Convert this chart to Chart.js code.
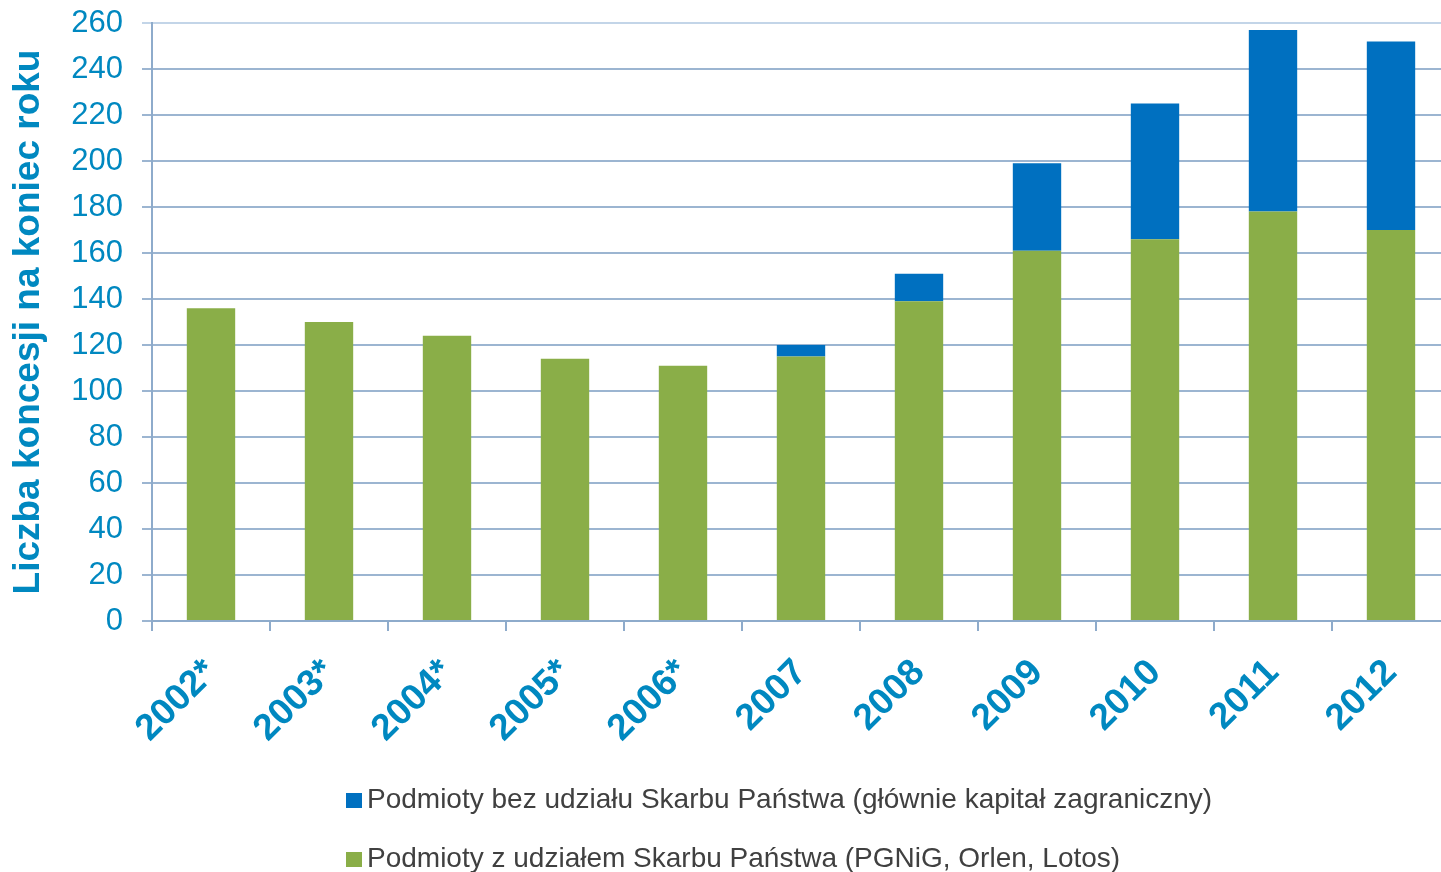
<!DOCTYPE html>
<html lang="pl">
<head>
    <meta charset="utf-8">
    <title>Liczba koncesji na koniec roku</title>
    <script src="https://cdn.jsdelivr.net/npm/chart.js@4"></script>
    <style>
        body { margin: 0; background: #fff; overflow: hidden; }
        #wrap { position: relative; width: 1450px; height: 872px; }
        .legend-row {
            position: absolute;
            left: 346px;
            font-family: "Liberation Sans", Arial, sans-serif;
            font-size: 28px;
            color: #404040;
            white-space: nowrap;
            line-height: 30px;
        }
        .legend-row span.box {
            display: inline-block;
            width: 16px;
            height: 15px;
            margin-right: 5px;
            vertical-align: 0px;
        }
    </style>
</head>
<body>
<div id="wrap">
    <canvas id="bar-chart"></canvas>
    <div class="legend-row" style="top: 784px;"><span class="box" style="background:#0070C0"></span>Podmioty bez udziału Skarbu Państwa (głównie kapitał zagraniczny)</div>
    <div class="legend-row" style="top: 843px;"><span class="box" style="background:#8AAE48"></span>Podmioty z udziałem Skarbu Państwa (PGNiG, Orlen, Lotos)</div>
</div>

<script>
"use strict";

// lata (gwiazdka jak w oryginale)
const years = ['2002*', '2003*', '2004*', '2005*', '2006*', '2007', '2008', '2009', '2010', '2011', '2012'];

// koncesje - podmioty z udziałem Skarbu Państwa
const stateOwned = [136, 130, 124, 114, 111, 115, 139, 161, 166, 178, 170];

// koncesje - podmioty bez udziału Skarbu Państwa
const privateOwned = [0, 0, 0, 0, 0, 5, 12, 38, 59, 79, 82];

const yMax = 260;
const yStep = 20;

const blueText = '#0088C0';
const gridColor = '#9CB5D1';
const axisColor = '#8EABCB';

const chartEl = document.getElementById('bar-chart');

new Chart(chartEl, {
    type: 'bar',
    data: {
        labels: years,
        datasets: [{
            label: 'Podmioty z udziałem Skarbu Państwa (PGNiG, Orlen, Lotos)',
            data: stateOwned,
            backgroundColor: '#8AAE48',
            borderWidth: 0,
            categoryPercentage: 1,
            barPercentage: 0.41
        }, {
            label: 'Podmioty bez udziału Skarbu Państwa (głównie kapitał zagraniczny)',
            data: privateOwned,
            backgroundColor: '#0070C0',
            borderWidth: 0,
            categoryPercentage: 1,
            barPercentage: 0.41
        }]
    },
    options: {
        responsive: true,
        maintainAspectRatio: false,
        animation: false,
        layout: {
            padding: { top: 23, right: 0, bottom: 0, left: 0 }
        },
        plugins: {
            legend: { display: false },
            tooltip: { enabled: false }
        },
        scales: {
            x: {
                stacked: true,
                grid: {
                    drawOnChartArea: false,
                    drawTicks: true,
                    tickLength: 10,
                    color: axisColor,
                    lineWidth: 2
                },
                border: { color: axisColor, width: 2 },
                ticks: {
                    minRotation: 45,
                    maxRotation: 45,
                    padding: 20,
                    color: blueText,
                    font: { family: '"Liberation Sans", Arial, sans-serif', size: 37, weight: 'bold' }
                },
                afterFit: (scale) => {
                    scale.height = 251;
                    scale.paddingTop = 0;
                    scale.paddingBottom = 0;
                }
            },
            y: {
                stacked: true,
                min: 0,
                max: yMax,
                grid: {
                    color: (ctx) => ctx.tick && ctx.tick.value === yMax ? '#C3D5E8' : gridColor,
                    lineWidth: 2,
                    tickLength: 10
                },
                border: { color: axisColor, width: 2 },
                ticks: {
                    stepSize: yStep,
                    padding: 19,
                    color: blueText,
                    font: { family: '"Liberation Sans", Arial, sans-serif', size: 31 }
                },
                title: {
                    display: true,
                    text: 'Liczba koncesji na koniec roku',
                    color: blueText,
                    padding: { top: 7, bottom: 0 },
                    font: { family: '"Liberation Sans", Arial, sans-serif', size: 37, weight: 'bold' }
                },
                afterFit: (scale) => {
                    scale.width = 152;
                    scale.paddingTop = 0;
                    scale.paddingBottom = 0;
                }
            }
        }
    }
});
</script>
</body>
</html>
